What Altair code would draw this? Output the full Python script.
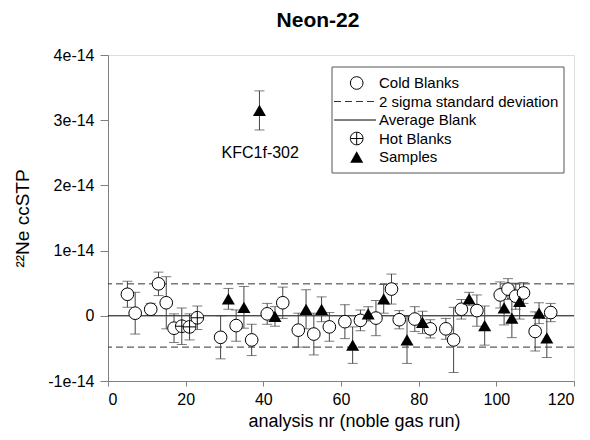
import altair as alt
import pandas as pd

FONT = "Liberation Sans"
E15 = 1e-15  # values below are in units of 1e-15 ccSTP

# Cold blanks
cold_x = [5, 7, 11, 13, 15, 17, 29, 33, 37, 41, 45, 49, 53, 57, 61, 65, 69, 73, 75, 79,
          83, 87, 89, 91, 95, 101, 103, 105, 107, 110, 114]
cold_y = [3.3, 0.4, 1.0, 4.9, 2.0, -1.9, -3.3, -1.5, -3.7, 0.3, 2.0, -2.2, -2.8, -1.7, -0.9,
          -0.7, -0.35, 4.1, -0.6, -0.5, -2.0, -2.0, -3.7, 1.0, 0.8, 3.2, 4.1, 3.0, 3.5, -2.4, 0.5]
cold_err = [2.0, 3.2, 0.9, 1.8, 4.0, 2.2, 3.3, 2.4, 2.4, 1.6, 2.4, 2.6, 3.2, 2.2, 2.6,
            1.6, 2.7, 2.3, 1.4, 1.9, 1.4, 1.6, 5.0, 1.5, 2.4, 2.0, 1.6, 2.0, 1.6, 3.0, 1.4]

# Hot blanks
hot_x = [19, 21, 23]
hot_y = [-1.6, -1.7, -0.3]
hot_err = [2.8, 2.0, 1.8]

# Samples
samp_x = [31, 35, 39, 43, 51, 55, 63, 67, 71, 77, 81, 93, 97, 102, 104, 106, 111, 113]
samp_y = [2.6, 1.3, 31.5, -0.1, 1.0, 1.0, -4.5, 0.3, 2.6, -3.7, -1.0, 2.6, -1.5, 1.2,
          -0.35, 2.2, 0.4, -3.4]
samp_err = [1.6, 3.2, 3.0, 1.5, 3.0, 1.9, 2.8, 1.1, 2.2, 3.6, 1.7, 1.0, 3.0, 2.6, 3.0,
            2.7, 1.6, 3.0]

# Reference lines
avg_blank = 0.0
sigma_hi = 4.9
sigma_lo = -4.8

# Annotation
annot_label = "KFC1f-302"
annot_x = 39.2
annot_y = 25.0

legend_labels = ["Cold Blanks", "2 sigma standard deviation", "Average Blank",
                 "Hot Blanks", "Samples"]

x_ticks = [0, 20, 40, 60, 80, 100, 120]
y_ticks = [-1e-14, 0, 1e-14, 2e-14, 3e-14, 4e-14]


def frame(xs, ys, errs, kind):
    return pd.DataFrame({
        "run": xs,
        "ne": [v * E15 for v in ys],
        "lo": [(v - e) * E15 for v, e in zip(ys, errs)],
        "hi": [(v + e) * E15 for v, e in zip(ys, errs)],
        "kind": kind,
    })


cold = frame(cold_x, cold_y, cold_err, "cold")
hot = frame(hot_x, hot_y, hot_err, "hot")
samp = frame(samp_x, samp_y, samp_err, "sample")
alld = pd.concat([cold, hot, samp], ignore_index=True)

xscale = alt.Scale(domain=[0, 120], nice=False, zero=False)
yscale = alt.Scale(domain=[-1e-14, 4e-14], nice=False, zero=False)

X = alt.X("run:Q", scale=xscale,
          axis=alt.Axis(values=x_ticks, title="analysis nr (noble gas run)", grid=False,
                        labelFont=FONT, labelFontSize=16, labelColor="black",
                        titleFont=FONT, titleFontSize=18, titleFontWeight="normal",
                        titleColor="black", tickSize=5, labelPadding=5,
                        domainColor="#808080", tickColor="#808080",
                        titleX=246, titleY=45, titleBaseline="alphabetic"))
Y = alt.Y("ne:Q", scale=yscale,
          axis=alt.Axis(values=y_ticks, title="²²Ne ccSTP", grid=False,
                        labelExpr="datum.value == 0 ? '0' : replace(format(datum.value, '.0e'), '−', '-')",
                        labelFont=FONT, labelFontSize=16, labelColor="black",
                        titleFont=FONT, titleFontSize=19, titleFontWeight="normal",
                        titleColor="black", tickSize=8, labelPadding=6,
                        domainColor="#808080", tickColor="#808080",
                        titleX=-86, titleY=163, titleAngle=270,
                        titleAlign="center", titleBaseline="middle"))

base = alt.Chart(alld)

refs = pd.DataFrame({"v": [sigma_hi * E15, sigma_lo * E15], "avg": [avg_blank, avg_blank]})
dash_lines = alt.Chart(refs).mark_rule(color="#333333", strokeDash=[7, 4], strokeWidth=1).encode(
    y=alt.Y("v:Q", scale=yscale))
avg_line = alt.Chart(refs.head(1)).mark_rule(color="black", strokeWidth=1).encode(
    y=alt.Y("avg:Q", scale=yscale))

err_rule = base.mark_rule(color="#444444", strokeWidth=1).encode(
    x=X, y=alt.Y("lo:Q", scale=yscale), y2="hi:Q")
cap_lo = base.mark_tick(color="#444444", orient="horizontal", size=10, thickness=1).encode(
    x=alt.X("run:Q", scale=xscale), y=alt.Y("lo:Q", scale=yscale))
cap_hi = base.mark_tick(color="#444444", orient="horizontal", size=10, thickness=1).encode(
    x=alt.X("run:Q", scale=xscale), y=alt.Y("hi:Q", scale=yscale))

HOT_SHAPE = "M-1,0A1,1,0,1,1,1,0A1,1,0,1,1,-1,0ZM-1,0L1,0M0,-1L0,1"

cold_pts = alt.Chart(cold).mark_point(shape="circle", filled=True, fill="white", stroke="black",
                                      strokeWidth=1, size=160, opacity=1).encode(x=X, y=Y)
hot_pts = alt.Chart(hot).mark_point(shape=HOT_SHAPE, filled=True, fill="white", stroke="black",
                                    strokeWidth=1, size=160, opacity=1).encode(x=X, y=Y)
samp_pts = alt.Chart(samp).mark_point(shape="triangle-up", filled=True, color="black",
                                      size=170, opacity=1).encode(x=X, y=Y)

annot = alt.Chart(pd.DataFrame({"run": [annot_x], "ne": [annot_y * E15], "t": [annot_label]})).mark_text(
    font=FONT, fontSize=16, color="black", baseline="middle", align="center").encode(
    x=alt.X("run:Q", scale=xscale), y=alt.Y("ne:Q", scale=yscale), text="t:N")

# Legend box (pixel layout inside the plot area)
one = pd.DataFrame({"a": [0]})
box = alt.Chart(one).mark_rect(fill="white", stroke="#555555", strokeWidth=1).encode(
    x=alt.value(224), x2=alt.value(456), y=alt.value(12), y2=alt.value(118))
rows_y = [28, 46.5, 65, 83.5, 102]
sym_x = 248.7
txt_x = 271
leg_layers = [box]
leg_layers.append(alt.Chart(one).mark_point(shape="circle", filled=True, fill="white", stroke="black",
                                            strokeWidth=1, size=160, opacity=1).encode(
    x=alt.value(sym_x), y=alt.value(rows_y[0])))
leg_layers.append(alt.Chart(one).mark_rule(color="#333333", strokeDash=[7, 4], strokeWidth=1).encode(
    x=alt.value(226), x2=alt.value(268), y=alt.value(rows_y[1])))
leg_layers.append(alt.Chart(one).mark_rule(color="black", strokeWidth=1).encode(
    x=alt.value(226), x2=alt.value(268), y=alt.value(rows_y[2])))
leg_layers.append(alt.Chart(one).mark_point(shape=HOT_SHAPE, filled=True, fill="white", stroke="black",
                                            strokeWidth=1, size=160, opacity=1).encode(
    x=alt.value(sym_x), y=alt.value(rows_y[3])))
leg_layers.append(alt.Chart(one).mark_point(shape="triangle-up", filled=True, color="black",
                                            size=170, opacity=1).encode(
    x=alt.value(sym_x), y=alt.value(rows_y[4])))
for lab, yy in zip(legend_labels, rows_y):
    leg_layers.append(alt.Chart(one).mark_text(text=lab, font=FONT, fontSize=15, color="black",
                                               align="left", baseline="middle").encode(
        x=alt.value(txt_x), y=alt.value(yy)))

chart = alt.layer(
    dash_lines, avg_line, err_rule, cap_lo, cap_hi, cold_pts, hot_pts, samp_pts, annot,
    *leg_layers
).properties(
    width=466, height=326,
    title=alt.TitleParams("Neon-22", font=FONT, fontSize=21, fontWeight="bold", color="black",
                          anchor="middle", dx=-23, offset=16),
    autosize=alt.AutoSizeParams(type="none"),
    padding={"left": 100, "top": 47, "right": 8, "bottom": 50},
).configure_view(stroke="#666666", strokeWidth=1).configure(background="white")

chart.save("out.html", embed_options={"renderer": "svg", "actions": False})
